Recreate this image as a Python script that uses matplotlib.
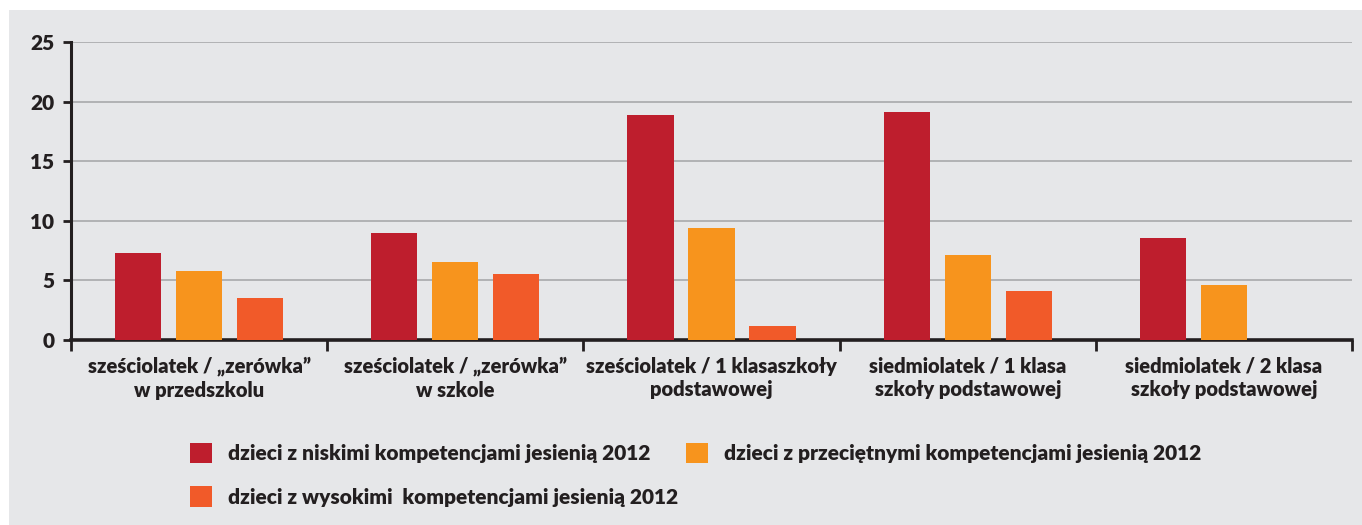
import matplotlib
matplotlib.use("Agg")
import matplotlib.pyplot as plt
import numpy as np
from matplotlib.patches import Rectangle

plt.rcParams['font.family'] = ['Lato', 'DejaVu Sans']
plt.rcParams['font.weight'] = 'heavy'

categories = ['sześciolatek / „zerówka”\nw przedszkolu',
              'sześciolatek / „zerówka”\nw szkole',
              'sześciolatek / 1 klasaszkoły\npodstawowej',
              'siedmiolatek / 1 klasa\nszkoły podstawowej',
              'siedmiolatek / 2 klasa\nszkoły podstawowej']
niskie = [7.3, 9.0, 18.9, 19.1, 8.55]
przecietne = [5.8, 6.55, 9.4, 7.15, 4.6]
wysokie = [3.5, 5.55, 1.2, 4.1, 0]
labels = ['dzieci z niskimi kompetencjami jesienią 2012',
          'dzieci z przeciętnymi kompetencjami jesienią 2012',
          'dzieci z wysokimi  kompetencjami jesienią 2012']
colors = ['#be1e2d', '#f7941d', '#f15a29']
txt = '#231f20'

fig = plt.figure(figsize=(13.62, 5.25), dpi=100, facecolor='white')
fig.patches.append(Rectangle((9/1362, 0), 1, 1 - 10/525, transform=fig.transFigure,
                             facecolor='#e6e7e9', edgecolor='none', zorder=-10))
ax = fig.add_axes([71/1362, 1 - 340/525, 1281/1362, 298/525])
ax.set_facecolor('none')

x = np.arange(len(categories))
w = 0.18
step = 0.238
bars = []
for i, (vals, c) in enumerate(zip([niskie, przecietne, wysokie], colors)):
    bars.append(ax.bar(x + (i - 1) * step, vals, w, color=c, zorder=3))

ax.set_xlim(-0.5, len(categories) - 0.5)
ax.set_ylim(0, 25)
ax.set_yticks([0, 5, 10, 15, 20, 25])
ax.yaxis.grid(True, color='#a8a9ab', linewidth=1.2, zorder=0)
ax.tick_params(axis='y', length=6, width=2, color=txt, labelsize=15, labelcolor=txt, pad=6)

ax.set_xticks(np.arange(-0.5, len(categories)), minor=False)
ax.set_xticklabels([])
ax.set_xticks(x, minor=True)
ax.set_xticklabels(categories, minor=True, fontsize=14.5, color=txt, linespacing=1.3)
ax.tick_params(axis='x', which='major', length=8, width=2, color=txt, direction='out')
ax.tick_params(axis='x', which='minor', length=0, pad=12)

for s in ['top', 'right']:
    ax.spines[s].set_visible(False)
ax.spines['left'].set_linewidth(2.2)
ax.spines['left'].set_color(txt)
ax.spines['bottom'].set_linewidth(2.6)
ax.spines['bottom'].set_color(txt)

handles = [bars[0], bars[2], bars[1]]
hl = [labels[0], labels[2], labels[1]]
leg = fig.legend(handles, hl, ncol=2, loc='upper left', bbox_to_anchor=(171/1362, 1 - 424/525),
                 frameon=False, fontsize=15, handlelength=1.06, handleheight=1.15,
                 handletextpad=0.77, columnspacing=0.4, labelspacing=1.1)
for t in leg.get_texts():
    t.set_color(txt)

fig.savefig('out.png', dpi=100, facecolor=fig.get_facecolor())
